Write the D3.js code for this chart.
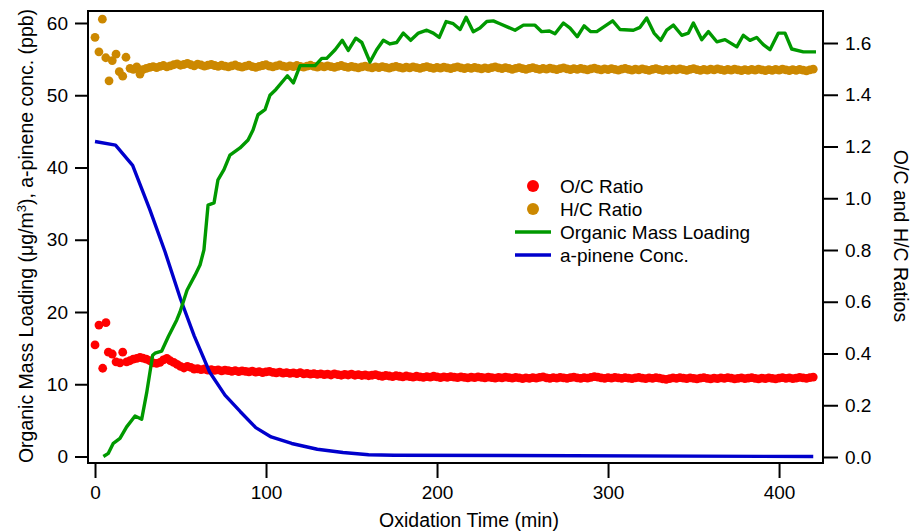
<!DOCTYPE html>
<html>
<head>
<meta charset="utf-8">
<script src="https://cdn.jsdelivr.net/npm/d3@7"></script>
<style>
  body { margin: 0; background: #fff; }
  svg text { font-family: "Liberation Sans", Arial, sans-serif; fill: #000; }
</style>
</head>
<body>
<svg id="chart" width="912" height="532"></svg>
<script>
// organic mass loading (ug/m3), left axis
const massTime = [4.9,7.8,10.7,14.6,18.5,22.4,23.4,27.3,30.2,33.7,35.1,39,42.9,47.8,49.7,53.8,58.5,61.4,63.7,66.1,
  69.6,71.9,75.4,78.9,84.8,89.5,92.4,95.3,99.4,102.3,105.8,112.5,116,119.9,128.7,132.6,135.5,140.4,144.6,148.1,
  152.5,156,160.8,164.7,168.6,172.5,176.4,180.3,184.6,189.1,194,197.8,201.3,205.3,209.5,213.5,217,221.2,225.1,229.1,
  232.9,236.8,241.7,245.6,250.5,257.3,261.2,265.7,269,273.9,277.8,282,286,289.9,293.4,302.7,307,314.8,318.7,322.6,
  326.9,330.8,334.3,338.2,343.1,347,349.9,354.8,358.7,363.6,368.4,375.3,379.1,383,386.9,390.8,394.7,399.6,403.5,407.4,
  414.2,421.6];
const massLoading = [0,0.44,1.83,2.5,4.1,5.3,5.6,5.15,8.8,14.0,14.3,14.6,16.6,18.9,20.0,23.0,25.1,26.5,28.6,34.8,
  35.1,38.3,39.7,41.7,42.7,43.8,45.2,47.3,48.0,50.0,50.8,52.7,51.7,54.1,54.1,55.1,55.1,56.3,57.6,56.2,
  57.9,57.3,54.6,56.3,57.6,57.1,57.3,58.6,57.6,58.6,59.0,58.6,58.0,60.2,59.9,59.1,60.8,58.8,59.3,60.2,
  60.3,59.9,59.4,59.0,59.7,59.7,58.8,58.9,58.5,60.0,59.3,58.1,59.6,58.8,58.8,60.3,59.1,59.0,59.4,60.7,
  58.6,57.6,59.0,59.7,58.3,58.6,60.0,57.7,58.8,57.4,57.7,56.7,58.3,57.6,58.0,57.0,56.3,58.6,58.6,56.4,
  56.0,56.0];

// a-pinene (ppb), left axis
const pineneTime = [0,12,22,32,41,50,58,67,76,85,94,103,115,130,145,160,175,420];
const pineneConc = [43.6,43.1,40.3,34.2,28.3,21.8,16.7,11.7,8.5,6.2,4.0,2.7,1.8,1.0,0.55,0.25,0.18,0.0];

// ratios, right axis: scattered start, then every 2 min from 28 to 420
const ocEarlyTime = [0,2.3,4.5,6.4,7.8,10.1,12.3,14.6,16.2,18.5,20.4,22.4,24.4,26.3];
const ocEarly = [0.433,0.510,0.343,0.519,0.405,0.398,0.368,0.364,0.405,0.368,0.372,0.378,0.381,0.385];
const hcEarlyTime = [0,2.3,4.3,6.3,8.2,10.1,12.3,14.2,16.2,18.1,20.5,22.4,24.4,26.3];
const hcEarly = [1.622,1.566,1.692,1.543,1.454,1.532,1.557,1.489,1.472,1.545,1.502,1.498,1.508,1.480];

const ocRatio = [
  .382,.378,.372,.364,.362,.366,.375,.381,.372,.366,
  .358,.350,.344,.350,.346,.340,.341,.338,.340,.336,
  .338,.335,.337,.333,.336,.334,.331,.334,.330,.333,
  .331,.329,.332,.328,.330,.326,.329,.331,.327,.325,
  .328,.324,.326,.323,.325,.322,.326,.321,.323,.320,
  .322,.319,.321,.318,.320,.317,.321,.318,.316,.319,
  .317,.320,.316,.318,.315,.317,.314,.316,.318,.314,
  .312,.315,.313,.311,.314,.312,.310,.313,.311,.309,
  .312,.310,.308,.311,.309,.312,.310,.307,.310,.308,
  .311,.309,.307,.310,.308,.306,.309,.307,.310,.308,
  .306,.309,.307,.305,.308,.306,.309,.307,.305,.308,
  .306,.303,.306,.304,.307,.305,.308,.310,.306,.304,
  .307,.305,.308,.306,.304,.307,.309,.306,.304,.307,
  .305,.308,.311,.309,.306,.304,.307,.305,.308,.306,
  .304,.307,.305,.303,.306,.308,.305,.303,.306,.304,
  .307,.305,.302,.300,.303,.306,.304,.307,.305,.303,
  .306,.304,.302,.305,.307,.304,.302,.305,.303,.306,
  .304,.307,.305,.302,.304,.306,.303,.305,.307,.304,
  .302,.305,.303,.306,.304,.302,.305,.307,.304,.306,
  .303,.305,.308,.306,.304,.307,.309];
const hcRatio = [
  1.497,1.502,1.506,1.509,1.505,1.510,1.513,1.508,1.512,1.516,
  1.519,1.514,1.517,1.521,1.516,1.512,1.518,1.515,1.511,1.514,
  1.517,1.513,1.510,1.514,1.511,1.508,1.512,1.515,1.510,1.507,
  1.511,1.514,1.509,1.506,1.510,1.513,1.516,1.511,1.508,1.512,
  1.515,1.511,1.508,1.512,1.509,1.513,1.510,1.507,1.511,1.514,
  1.510,1.507,1.511,1.508,1.512,1.509,1.506,1.510,1.513,1.509,
  1.506,1.510,1.507,1.504,1.508,1.511,1.507,1.504,1.508,1.505,
  1.509,1.506,1.503,1.507,1.510,1.506,1.503,1.507,1.504,1.508,
  1.505,1.502,1.506,1.509,1.505,1.502,1.506,1.503,1.507,1.504,
  1.501,1.505,1.508,1.504,1.501,1.505,1.502,1.506,1.503,1.500,
  1.504,1.501,1.505,1.508,1.504,1.501,1.505,1.502,1.498,1.502,
  1.505,1.501,1.498,1.502,1.505,1.501,1.498,1.502,1.499,1.503,
  1.500,1.497,1.501,1.504,1.500,1.497,1.501,1.498,1.502,1.499,
  1.496,1.500,1.503,1.499,1.496,1.500,1.497,1.501,1.498,1.495,
  1.499,1.502,1.498,1.495,1.499,1.496,1.500,1.497,1.494,1.498,
  1.501,1.497,1.494,1.498,1.495,1.499,1.496,1.500,1.497,1.494,
  1.498,1.501,1.497,1.494,1.498,1.495,1.499,1.496,1.500,1.497,
  1.494,1.498,1.495,1.499,1.496,1.493,1.497,1.494,1.498,1.495,
  1.499,1.496,1.493,1.497,1.494,1.498,1.495,1.499,1.496,1.493,
  1.497,1.494,1.498,1.495,1.492,1.496,1.499];
const ratioTime = d3.range(28, 420.1, 2);

const xTicks = [0, 100, 200, 300, 400];
const leftTicks = [0, 10, 20, 30, 40, 50, 60];
const rightTicks = [0, 0.2, 0.4, 0.6, 0.8, 1.0, 1.2, 1.4, 1.6];

const colors = { oc: "#ff0000", hc: "#cc8800", mass: "#009900", pinene: "#0000cc" };

const margin = { top: 11, right: 89, bottom: 69, left: 88 },
  W = 912, H = 532,
  w = W - margin.left - margin.right,
  h = H - margin.top - margin.bottom;

const svg = d3.select("#chart");
const g = svg.append("g").attr("transform", `translate(${margin.left},${margin.top})`);

const x = d3.scaleLinear().domain([-4.1, 425.7]).range([0, w]),
  yL = d3.scaleLinear().domain([-0.9, 61.66]).range([h, 0]),
  yR = d3.scaleLinear().domain([-0.0232, 1.7237]).range([h, 0]);

// axes
const tickFs = 19, titleFs = 19.5;
function styleAxis(sel) {
  sel.select(".domain").remove();
  sel.selectAll(".tick line").attr("stroke", "#000").attr("stroke-width", 2);
  sel.selectAll(".tick text").style("font-size", tickFs + "px");
}
g.append("g").attr("transform", `translate(0,${h})`)
  .call(d3.axisBottom(x).tickValues(xTicks).tickSize(15).tickPadding(8).tickFormat(d3.format("d")))
  .call(styleAxis);
g.append("g")
  .call(d3.axisLeft(yL).tickValues(leftTicks).tickSize(13).tickPadding(7).tickFormat(d3.format("d")))
  .call(styleAxis);
g.append("g").attr("transform", `translate(${w},0)`)
  .call(d3.axisRight(yR).tickValues(rightTicks).tickSize(15).tickPadding(7).tickFormat(d3.format(".1f")))
  .call(styleAxis);

// frame
g.append("rect").attr("width", w).attr("height", h)
  .attr("fill", "none").attr("stroke", "#000").attr("stroke-width", 2);

// ratio dots
function dots(times, vals, color) {
  g.append("g").selectAll("circle").data(vals).join("circle")
    .attr("cx", (d, i) => x(times[i]))
    .attr("cy", d => yR(d))
    .attr("r", 4.4)
    .attr("fill", color);
}
dots(hcEarlyTime, hcEarly, colors.hc);
dots(ratioTime, hcRatio, colors.hc);
dots(ocEarlyTime, ocEarly, colors.oc);
dots(ratioTime, ocRatio, colors.oc);

// lines
function line(times, vals, color) {
  const gen = d3.line().x((d, i) => x(times[i])).y(d => yL(d));
  g.append("path").datum(vals).attr("d", gen)
    .attr("fill", "none").attr("stroke", color).attr("stroke-width", 3.4)
    .attr("stroke-linejoin", "round");
}
line(pineneTime, pineneConc, colors.pinene);
line(massTime, massLoading, colors.mass);

// axis titles
svg.append("text").attr("x", 469).attr("y", 527).attr("text-anchor", "middle")
  .style("font-size", titleFs + "px").text("Oxidation Time (min)");

const lt = svg.append("text")
  .attr("transform", "translate(33,236) rotate(-90)")
  .attr("text-anchor", "middle").style("font-size", titleFs + "px");
lt.append("tspan").text("Organic Mass Loading (\u03bcg/m");
lt.append("tspan").attr("baseline-shift", "super").style("font-size", "13px").text("3");
lt.append("tspan").text("), a-pinene conc. (ppb)");

svg.append("text")
  .attr("transform", "translate(894,236) rotate(90)")
  .attr("text-anchor", "middle").style("font-size", titleFs + "px").text("O/C and H/C Ratios");

// legend
const legendItems = [
  { label: "O/C Ratio", color: colors.oc, type: "dot" },
  { label: "H/C Ratio", color: colors.hc, type: "dot" },
  { label: "Organic Mass Loading", color: colors.mass, type: "line" },
  { label: "a-pinene Conc.", color: colors.pinene, type: "line" }
];
const leg = svg.append("g").attr("transform", "translate(515,186)");
legendItems.forEach((it, i) => {
  const row = leg.append("g").attr("transform", `translate(0,${i * 23})`);
  if (it.type === "dot") {
    row.append("circle").attr("cx", 18).attr("cy", 0).attr("r", 6).attr("fill", it.color);
  } else {
    row.append("line").attr("x1", 0).attr("x2", 36).attr("y1", 0).attr("y2", 0)
      .attr("stroke", it.color).attr("stroke-width", 3.4);
  }
  row.append("text").attr("x", 45).attr("y", 0).attr("dy", "0.35em")
    .style("font-size", "19px").text(it.label);
});
</script>
</body>
</html>
